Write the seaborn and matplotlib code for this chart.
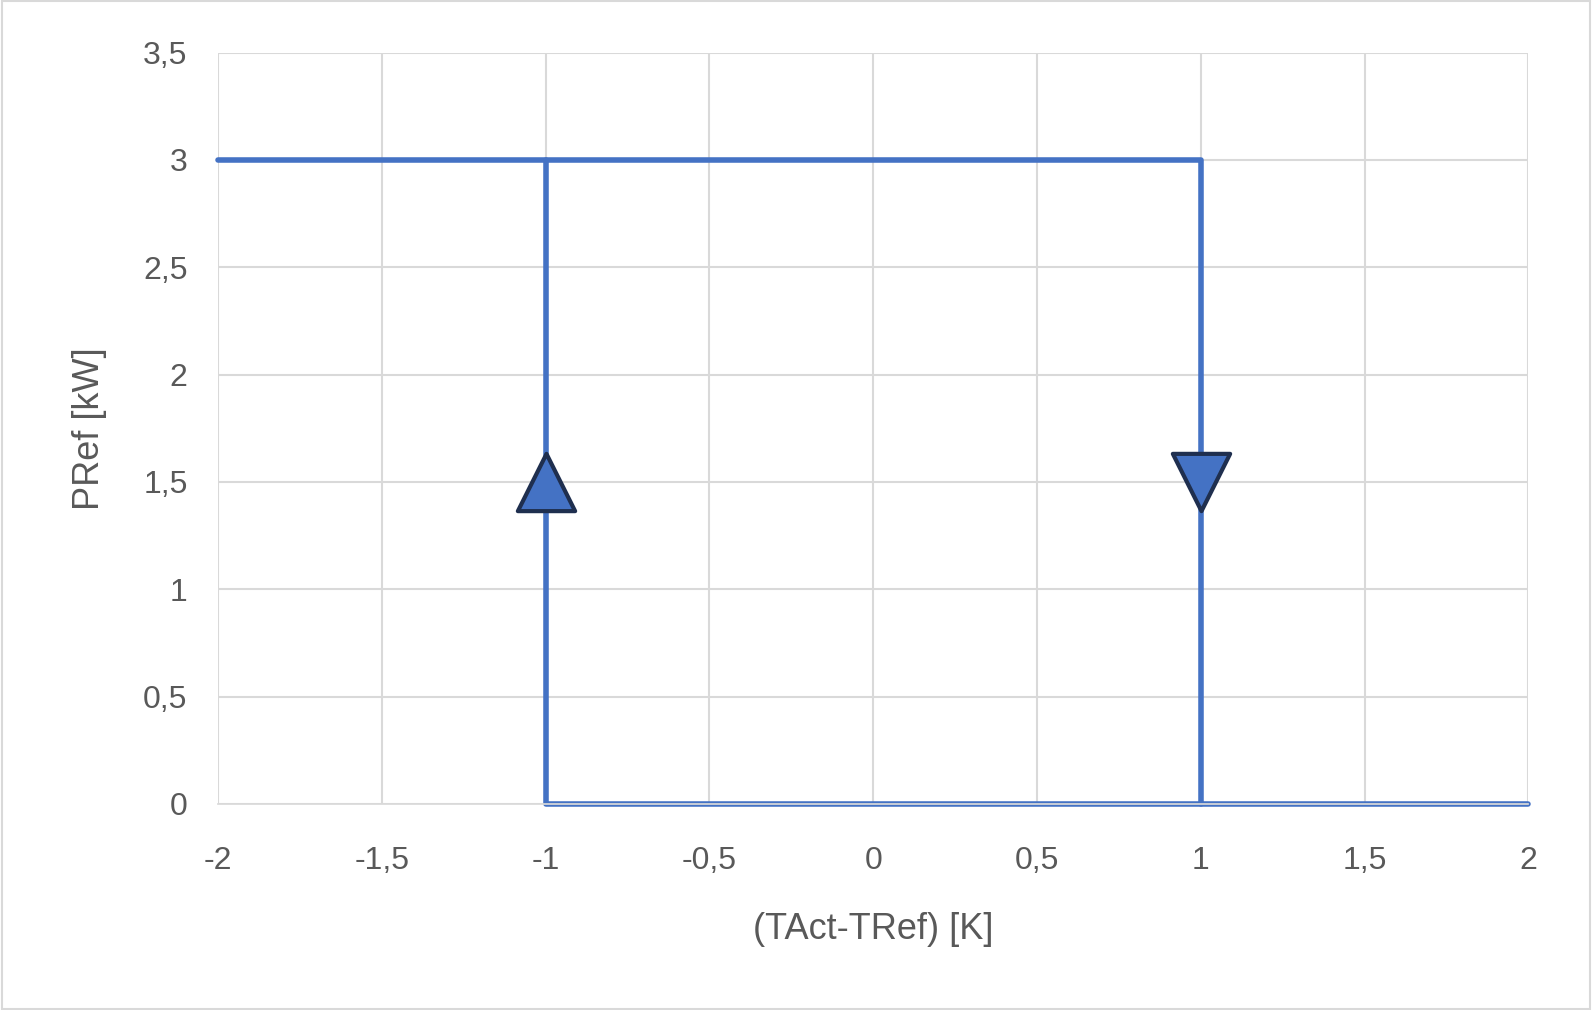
import matplotlib
matplotlib.use("Agg")
import matplotlib.pyplot as plt
import seaborn as sns
import pandas as pd
from matplotlib.ticker import FuncFormatter

# data
path1_x = [-2, 1, 1, 2]
path1_y = [3, 3, 0, 0]
path2_x = [-1, -1, 1]
path2_y = [3, 0, 0]
up_x, up_y = [-1], [1.5]
down_x, down_y = [1], [1.5]
xticks = [-2, -1.5, -1, -0.5, 0, 0.5, 1, 1.5, 2]
yticks = [0, 0.5, 1, 1.5, 2, 2.5, 3, 3.5]

sns.set_theme(style="white")
plt.rcParams['font.family'] = ['Liberation Sans', 'DejaVu Sans']

fig = plt.figure(figsize=(15.92, 10.10), dpi=100)
ax = fig.add_axes([0.137, 0.204, 0.823, 0.744])
blue = "#4472C4"
df1 = pd.DataFrame({"x": path1_x, "y": path1_y})
df2 = pd.DataFrame({"x": path2_x, "y": path2_y})
sns.lineplot(data=df1, x="x", y="y", sort=False, ax=ax, color=blue, lw=4, estimator=None)
sns.lineplot(data=df2, x="x", y="y", sort=False, ax=ax, color=blue, lw=4, estimator=None)
for ln in ax.lines:
    ln.set_clip_on(False)
ax.scatter(up_x, up_y, marker="^", s=1700, color=blue, edgecolor="#1F2F4F", linewidth=3, zorder=5)
ax.scatter(down_x, down_y, marker="v", s=1700, color=blue, edgecolor="#1F2F4F", linewidth=3, zorder=5)

ax.set_xlim(-2, 2)
ax.set_ylim(0, 3.5)
ax.set_xticks(xticks)
ax.set_yticks(yticks)
fmt = FuncFormatter(lambda v, p: ("%g" % v).replace(".", ","))
ax.xaxis.set_major_formatter(fmt)
ax.yaxis.set_major_formatter(fmt)
ax.grid(True, color="#D9D9D9", lw=1.5)
for s in ["top", "right", "left"]:
    ax.spines[s].set_visible(False)
ax.spines["bottom"].set_color("#D9D9D9")
ax.tick_params(colors="#595959", labelsize=23, length=0)
ax.tick_params(axis="x", pad=30)
ax.tick_params(axis="y", pad=22)
ax.set_xlabel("(TAct-TRef) [K]", fontsize=26, color="#595959", labelpad=26)
ax.set_ylabel("PRef [kW]", fontsize=26, color="#595959", labelpad=26)
fig.patches.append(plt.Rectangle((0.001, 0.001), 0.998, 0.998, transform=fig.transFigure,
                                 fill=False, edgecolor="#D9D9D9", lw=1.5))
fig.savefig("out.png", dpi=100)
